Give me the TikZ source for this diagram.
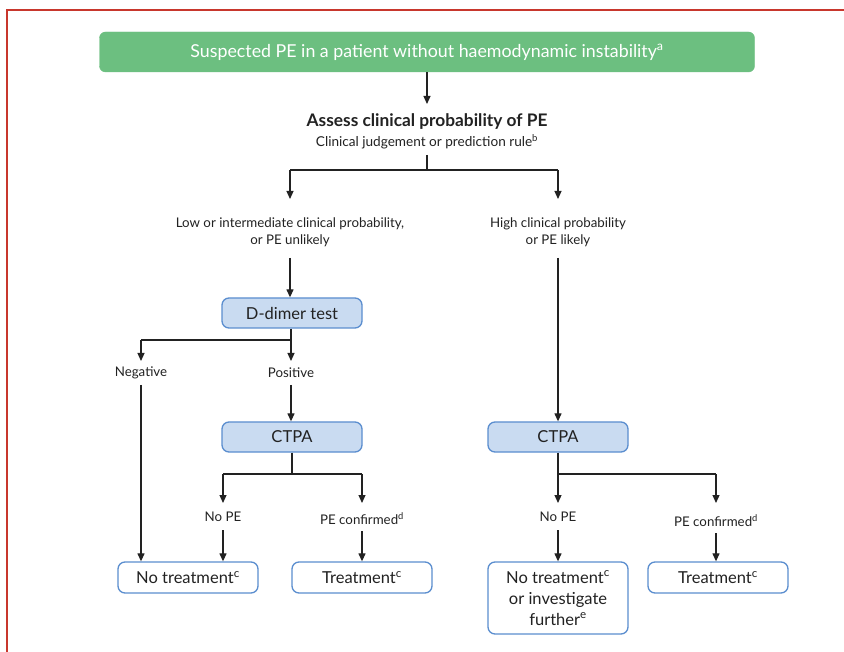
\documentclass[tikz,border=0pt]{standalone}
\usepackage{fontspec}
\setmainfont{Lato}
\usetikzlibrary{arrows.meta}
\definecolor{frame}{HTML}{C8372D}
\definecolor{grn}{HTML}{6CBF80}
\definecolor{bfill}{HTML}{C9DBF1}
\definecolor{bdraw}{HTML}{5B8ECF}
\definecolor{ink}{HTML}{222222}
\tikzset{
  greenbox/.style={draw=grn, fill=grn, rounded corners=6pt, minimum width=655pt, minimum height=40pt, text=white, font=\fontsize{17.8}{20}\selectfont, inner sep=0pt},
  testbox/.style={draw=bdraw, fill=bfill, line width=1.3pt, rounded corners=7pt, minimum width=140pt, minimum height=30pt, font=\fontsize{16.5}{19}\selectfont, text=ink, inner sep=0pt},
  outbox/.style={draw=bdraw, fill=white, line width=1.3pt, rounded corners=7pt, minimum width=140pt, minimum height=31pt, font=\fontsize{16.5}{19}\selectfont, text=ink, inner sep=0pt, align=center},
  lbl/.style={font=\fontsize{13.3}{17}\selectfont, text=ink, align=center, inner sep=1pt},
  conn/.style={draw=ink, line width=1.2pt},
  arr/.style={conn, -{Triangle[length=8pt,width=7pt]}},
}
\begin{document}
\begin{tikzpicture}[x=1pt,y=-1pt]
\useasboundingbox (0,0) rectangle (844,652);
\fill[white] (0,0) rectangle (844,652);
\draw[frame, line width=2pt] (7,652) -- (7,10) -- (844,10);

\node[greenbox] (start) at (427,52) {Suspected PE in a patient without haemodynamic instability\textsuperscript{a}};
\node[font=\fontsize{17.3}{20}\selectfont\bfseries, text=ink, inner sep=1pt] (assess) at (427,122) {Assess clinical probability of PE};
\node[font=\fontsize{13.6}{16}\selectfont, text=ink, inner sep=1pt] (rule) at (427,142) {Clinical judgement or prediction rule\textsuperscript{b}};
\coordinate (rb) at (427,155);
\coordinate (split) at (427,170);
\coordinate (sl) at (290,170);
\coordinate (sr) at (558,170);

\node[lbl] (low) at (290,232) {Low or intermediate clinical probability,\\ or PE unlikely};
\node[lbl] (high) at (558,232) {High clinical probability\\ or PE likely};

\node[testbox] (dd) at (292,313) {D-dimer test};
\coordinate (ddj) at (291,340);
\coordinate (ddl) at (141,340);
\node[lbl] (neg) at (141,373) {Negative};
\node[lbl] (pos) at (291,373) {Positive};

\node[testbox] (ct1) at (292,437) {CTPA};
\node[testbox] (ct2) at (558,437) {CTPA};

\coordinate (c1j) at (292,474);
\coordinate (c1l) at (223,474);
\coordinate (c1r) at (362,474);
\coordinate (c2j) at (558,474);
\coordinate (c2r) at (716,474);

\node[lbl] (nope1) at (223,517) {No PE};
\node[lbl] (conf1) at (362,519) {PE confirmed\textsuperscript{d}};
\node[lbl] (nope2) at (558,517) {No PE};
\node[lbl] (conf2) at (716,521) {PE confirmed\textsuperscript{d}};

\node[outbox] (nt1) at (188,577.5) {No treatment\textsuperscript{c}};
\node[outbox] (tr1) at (362,577.5) {Treatment\textsuperscript{c}};
\node[outbox, minimum height=72pt, font=\fontsize{16.5}{21}\selectfont] (nt2) at (558,598) {No treatment\textsuperscript{c}\\ or investigate\\ further\textsuperscript{e}};
\node[outbox] (tr2) at (718,577.5) {Treatment\textsuperscript{c}};

% connectors
\draw[arr] (start.south) -- (427,104);
\draw[conn] (rb) -- (split);
\draw[conn] (sl) -- (sr);
\draw[arr] (sl) -- (290,199);
\draw[arr] (sr) -- (558,199);
\draw[arr] (290,258) -- (dd.north -| 290,0);
\draw[arr] (558,258) -- (ct2.north);
\draw[conn] (dd.south -| ddj) -- (ddj);
\draw[conn] (ddj) -- (ddl);
\draw[arr] (ddl) -- (141,361);
\draw[arr] (ddj) -- (291,361);
\draw[arr] (141,385) -- (nt1.north -| 141,0);
\draw[arr] (291,385) -- (ct1.north -| 291,0);
\draw[conn] (ct1.south) -- (c1j);
\draw[conn] (c1l) -- (c1r);
\draw[arr] (c1l) -- (223,503);
\draw[arr] (c1r) -- (362,503);
\draw[arr] (223,530) -- (nt1.north -| 223,0);
\draw[arr] (362,531) -- (tr1.north);
\draw[conn] (ct2.south) -- (c2j);
\draw[conn] (c2j) -- (c2r);
\draw[arr] (c2j) -- (558,503);
\draw[arr] (c2r) -- (716,503);
\draw[arr] (558,530) -- (nt2.north);
\draw[arr] (716,533) -- (tr2.north -| 716,0);
\end{tikzpicture}
\end{document}
